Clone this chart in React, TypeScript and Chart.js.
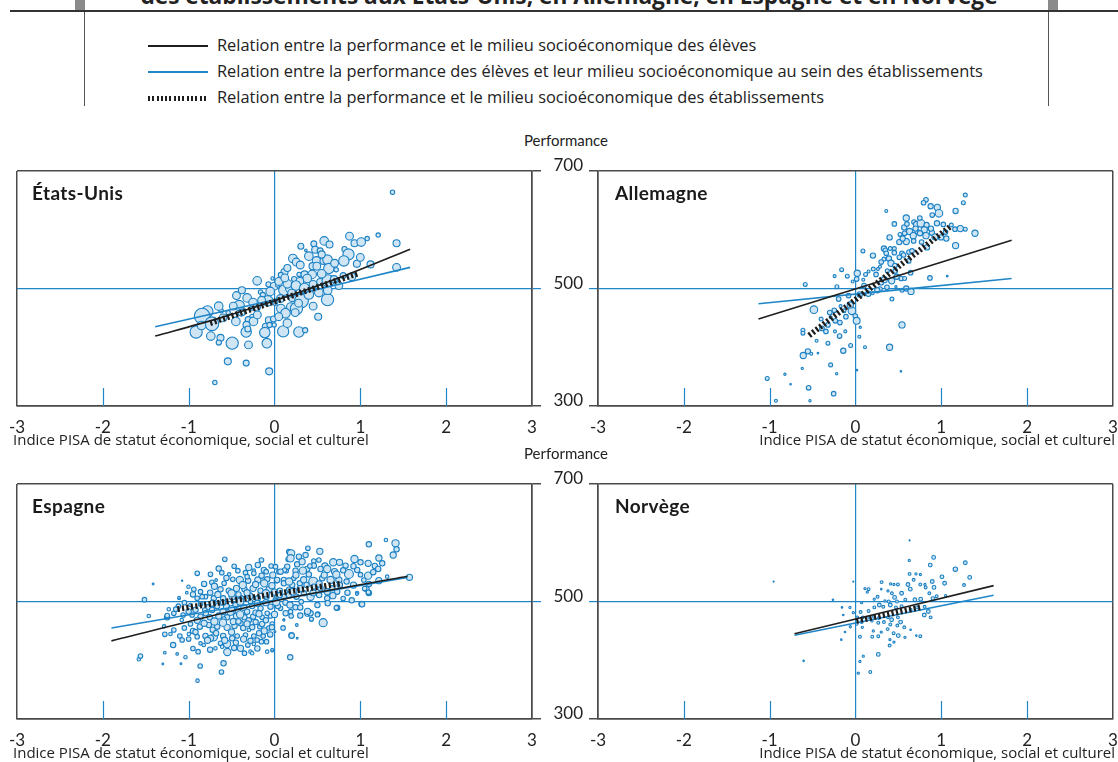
import React, { useEffect, useRef } from 'react';
import { Chart, registerables } from 'chart.js';

Chart.register(...registerables);

const FONT = 'Lato, "Noto Sans", sans-serif';
const TEXT_FONT = '"Open Sans", Lato, sans-serif';
const BLUE = '#1f86c8';
const FRAME = '#4a4a4a';
const BUBBLE_FILL = '#cfe5f3';
const BUBBLE_STROKE = '#1a80c4';
const INK = '#1e1e1e';

// ---------- tick values ----------
const xTicks = [-3, -2, -1, 0, 1, 2, 3];
const yTicks = [300, 500, 700];
const innerTickValues = [-2, -1, 1, 2];

// ---------- legend / titles ----------
const titleText = 'des établissements aux États-Unis, en Allemagne, en Espagne et en Norvège';
const legendLabels = [
  'Relation entre la performance et le milieu socioéconomique des élèves',
  'Relation entre la performance des élèves et leur milieu socioéconomique au sein des établissements',
  'Relation entre la performance et le milieu socioéconomique des établissements',
];
const xAxisTitle = 'Indice PISA de statut économique, social et culturel';
const yAxisTitle = 'Performance';

type Pt = [number, number, number];
type LP = [number, number];

// ---------- États-Unis ----------
const usSchools: Pt[] = [
  [1.375,664,1.7],[0.874,589,3],[0.932,577,2.7],[1.010,579,3.3],[1.080,585,1.7],[1.208,591,1.7],[1.422,577,2.7],[1.422,536,3],
  [0.579,581,3.3],[0.641,575,2.7],[0.458,576,2.3],[0.307,572,2.3],[0.474,566,2.7],[0.532,564,2.3],[0.365,565,1],[0.816,567,2],
  [0.862,558,4.3],[0.808,547,4],[0.960,542,2.7],[1.119,541,2.7],[0.214,551,3.3],[0.253,545,3],[0.490,547,3.3],[0.571,547,2.7],
  [0.618,549,3.7],[0.443,538,2.7],[0.493,538,3],[0.633,534,4],[0.719,532,1.7],[0.117,528,2.7],[0.074,523,2],[0.287,524,1.7],
  [0.350,524,2.7],[0.439,524,3.3],[0.381,517,3.3],[0.229,516,2],[0.295,512,3],[0.532,511,2.7],[0.625,513,4.7],[0.692,516,2.7],
  [0.800,522,2.3],[-0.202,513,3.3],[-0.070,507,2],[-0.004,504,3],[0.109,497,4],[0.179,500,3.3],[0.039,506,1.7],[-0.023,517,1.3],
  [-0.163,494,1.7],[-0.136,489,2],[-0.443,488,3],[-0.319,484,3.3],[-0.412,471,4],[-0.078,479,4],[0.070,483,3],[0.206,485,3.3],
  [0.315,479,5.3],[0.618,481,4.7],[0.517,493,3.3],[0.186,469,3],[0.074,466,3.3],[0.256,466,4.7],[0.128,458,3.7],[0.241,459,3],
  [0.008,475,1.7],[-0.210,468,3],[-0.260,467,1.7],[-0.622,462,1.7],[-0.540,459,1.7],[-0.781,461,4.3],[-0.843,453,6],[-0.730,440,5.3],
  [-0.385,459,2.7],[-0.256,451,2.3],[-0.307,447,2.3],[-0.245,444,3.3],[-0.326,438,2.7],[-0.330,426,4],[-0.311,431,2.3],[-0.101,435,2.7],
  [-0.066,446,2.7],[-0.012,448,2.3],[-0.004,438,1.7],[-0.058,438,2],[-0.113,425,4],[0.101,427,4.3],[0.284,426,4],[0.357,429,2],
  [0.509,452,2.7],[-0.913,426,4.7],[-0.742,419,3.3],[-0.629,416,2.7],[-0.649,408,2],[-0.493,407,4.7],[-0.303,404,3],[-0.089,407,3.7],
  [-0.544,376,2.7],[-0.330,373,2.3],[-0.062,359,2.7],[-0.695,340,1.7],
  [0.05,512,3],[0.15,508,3.3],[0.25,505,3.7],[0.35,500,4],[0.45,507,3],[0.55,525,3.3],[0.70,543,3],[0.40,555,3.3],
  [0.30,540,3],[0.15,535,2.7],[-0.05,495,3.3],[0.20,492,3],[0.40,490,3.7],[0.28,475,3],[-0.15,480,3],[-0.25,476,3.3],
  [-0.48,470,3],[-0.60,450,3],[-0.45,444,3.3],[-0.20,455,3],[0.05,452,3],[0.15,441,3.3],[0.45,470,3],[0.75,505,3],
  [0.90,520,3],[0.55,558,2.7],[1.00,553,3],[-0.65,470,3.3],[-0.85,437,3.3],[-0.38,497,2.7],[0.62,497,3.3],[0.12,518,3],
];
const usStudentLine: LP[] = [[-1.39,419],[-0.7,447],[0,479],[0.8,521],[1.58,567]];
const usWithinLine: LP[] = [[-1.39,435],[0,481],[1.58,536]];
const usBetweenLine: LP[] = [[-0.75,441],[0.98,526]];

// ---------- Allemagne ----------
const deSchools: Pt[] = [
  [1.280,659,1.7],[1.257,646,1.7],[0.822,651,2],[0.794,646,2],[0.876,640,2.3],[0.954,638,2.7],[0.973,628,3.3],[0.895,625,2],
  [1.167,632,2.3],[0.359,632,1.3],[0.592,620,2.7],[0.453,610,2],[0.569,604,2.3],[0.682,613,2],[0.713,609,2.7],[0.763,611,3.3],
  [0.829,608,2.3],[0.950,611,2.3],[0.631,597,2.7],[0.721,597,2],[0.802,600,2.7],[0.891,595,2.3],[1.024,609,2],[1.117,608,1.7],
  [1.160,601,2],[1.222,602,2.7],[1.280,601,1.7],[1.393,594,2.7],[0.519,592,1.7],[0.573,594,2],[0.674,590,2.7],[0.752,594,2.3],
  [0.822,590,2.7],[0.927,588,2.7],[0.997,587,2.3],[1.059,585,2.3],[0.398,587,2.3],[0.511,579,2.3],[0.592,580,2.7],[0.678,581,2],
  [0.771,579,2],[0.833,570,2.3],[1.167,573,2.7],[0.087,564,1.7],[0.204,556,2.3],[0.332,568,2.3],[0.348,565,2],[0.406,568,1.7],
  [0.453,568,1.7],[0.359,560,2],[0.453,561,2],[0.542,560,2],[0.624,562,2],[0.659,564,2],[0.332,550,1.7],[0.390,551,2.3],
  [0.511,553,2],[0.561,557,2],[0.620,547,2],[0.414,543,2.7],[0.460,539,2],[0.286,537,1.3],[0.208,533,1.7],[0.153,529,1.3],
  [0.021,526,2.7],[0.118,524,1.7],[0.262,533,1.3],[0.371,530,1.7],[0.464,530,2],[0.534,517,2],[0.573,517,1.7],[0.643,527,2],
  [0.868,518,2],[0.336,515,2.7],[0.422,513,2.7],[0.367,502,2],[0.472,503,1],[0.592,500,2.3],[0.647,495,2.7],[0.542,497,1.7],
  [0.286,499,2],[0.254,497,2.3],[0.150,491,2.3],[0.200,492,1.3],[0.425,482,1.7],[1.070,521,0.7],[-0.161,532,1.7],[-0.243,521,1.3],
  [-0.095,521,1.7],[-0.216,503,1.7],[-0.585,507,1.7],[0.014,516,2],[-0.033,512,1.3],[0.091,515,1.3],[-0.484,464,3.3],[-0.196,482,2],
  [-0.173,470,1.3],[-0.247,463,2],[-0.134,462,1.7],[-0.041,462,3.3],[-0.002,453,2],[0.014,445,3],[-0.289,451,1.3],[-0.235,445,2],
  [-0.111,452,2],[-0.181,442,2],[-0.321,438,2],[-0.390,432,2],[-0.344,427,2],[-0.239,427,1.3],[-0.185,419,2],[-0.118,427,1.3],
  [-0.612,429,1.7],[-0.612,424,1.7],[-0.453,411,1.3],[-0.321,407,1.7],[0.056,434,1],[0.045,418,1.3],[-0.056,403,1.7],[0.111,400,1.3],
  [-0.142,394,2.3],[-0.554,393,2.3],[-0.608,386,2.7],[-0.515,389,1.3],[-0.437,390,0.7],[0.542,438,2.7],[0.398,400,2.7],[-0.289,370,1.7],
  [-0.620,364,1],[-0.822,354,1],[-0.219,355,1],[0.017,361,0.7],[0.530,359,0.7],[-1.028,347,1.7],[-0.756,337,0.7],[-0.546,331,2],
  [-0.254,321,2],[-0.927,309,1.3],[-0.530,309,1],
  [0.70,602,2.3],[0.60,610,2],[0.88,602,2.3],[1.05,596,2],[0.30,545,2],[0.24,524,2],[0.10,505,2],[0.05,490,2.3],
  [-0.08,488,2],[0.30,510,2],[0.48,520,2.3],[-0.30,459,2],[-0.40,448,1.7],[-0.06,472,2.7],[0.55,585,2.3],[0.75,620,2],
];
const deStudentLine: LP[] = [[-1.13,448],[1.82,582]];
const deWithinLine: LP[] = [[-1.13,474],[1.82,517]];
const deBetweenLine: LP[] = [[-0.54,420],[1.11,606]];

// ---------- Espagne ----------
const esSchools: Pt[] = [
  [-0.579,571.8,1.7],[-0.194,562.1,2],[-0.152,570.6,1.7],[-0.039,560.4,1.7],[0.159,571.8,1.7],[0.167,584.8,1.7],
  [-0.746,546.2,1.7],[-0.614,549.1,1.7],[-0.528,546.2,1.3],[-0.427,552.5,1.7],[-0.338,549.1,1.7],[-0.241,552.5,1.3],[-0.124,553.6,2],[0.051,550.8,1.7],[0.136,552.5,1.7],
  [-0.680,536.6,1],[-0.730,532.6,1.7],[-0.587,530.9,1.7],[-0.486,537.7,1.7],[-0.404,536.6,2.7],[-0.307,535.5,2],[-0.194,536.6,2.3],[-0.085,537.7,2],[0.023,535.5,1.7],[0.109,536.6,2],
  [-0.940,520.7,1.7],[-0.862,516.7,1.7],[-1.002,525.2,1.3],[-1.022,515.0,1],[-1.111,505.4,1],[-0.629,520.7,2],[-0.532,518.4,2],[-0.443,522.4,2.3],[-0.350,520.7,2],[-0.249,522.4,2.3],[-0.163,518.4,2],[-0.062,520.7,2.3],[0.062,518.4,2],[0.167,520.7,1.7],
  [-0.901,505.4,1.7],[-0.804,508.2,1.7],[-0.707,505.4,2],[-0.598,505.4,2],[-0.493,508.2,2.3],[-0.389,505.4,2],[-0.287,509.4,2.3],[-0.194,505.4,2],[-0.093,508.2,2],[0.012,503.7,1.7],[0.109,508.2,2],
  [-0.979,494.0,1.3],[-0.862,495.7,1.7],[-0.777,490.1,2],[-0.668,492.3,2],[-0.559,491.2,2.3],[-0.455,494.0,2],[-0.357,490.1,2.3],[-0.260,492.3,2],[-0.163,488.4,2],[-0.047,491.2,2],[0.070,488.4,1.7],
  [-1.173,479.9,1.7],[-1.064,477.0,1.7],[-0.960,477.0,1.7],[-0.862,474.2,2],[-0.754,473.1,2],[-0.649,475.3,2.3],[-0.552,473.1,2],[-0.443,475.3,2.3],[-0.350,473.1,2],[-0.249,474.2,2],[-0.144,473.1,1.7],[-0.047,475.3,1.7],
  [-1.251,473.1,2],[-1.080,468.5,1.3],[-0.979,461.7,1.7],[-0.870,457.2,2],[-0.765,460.0,2],[-0.668,457.2,2],[-0.552,456.0,2.3],[-0.466,458.3,2],[-0.365,454.9,2],[-0.260,456.0,2],[-0.171,457.2,1.7],[-0.066,454.9,1.7],
  [-1.173,451.5,1.7],[-1.212,444.7,1.3],[-1.103,441.3,1.7],[-0.998,444.7,1.3],[-0.901,440.1,1.7],[-0.804,441.3,2],[-0.707,439.0,2.7],[-0.598,441.3,2],[-0.493,437.3,2],[-0.435,441.3,1.7],[-0.338,443.0,1.7],[-0.241,441.3,1.7],[-0.132,441.3,1.7],
  [-1.181,425.9,2],[-1.076,434.5,1.7],[-0.862,428.8,1.3],[-0.746,437.3,2.3],[-0.629,428.8,1.7],[-0.552,427.6,2.7],[-0.396,420.3,2.3],[-0.311,425.9,1.7],[-0.241,427.6,1.3],[-0.152,431.6,1.7],[-0.093,431.6,1.7],
  [-0.824,425.9,1.3],[-0.688,420.3,1.3],[-0.610,423.1,1.3],[-1.134,410.7,1],[-1.037,405.0,1.3],[-0.890,414.6,1.7],[-0.085,414.6,1.3],[-0.027,416.3,1],
  [-1.581,401.6,1.3],[-1.562,407.2,1.7],[-1.278,412.9,1],[-1.301,393.6,0.7],[-0.897,365.3,1.3],[-0.866,390.2,1.7],[-0.618,380.0,1.7],[-0.594,394.8,2],
  [-1.515,503.1,1.7],[-1.414,529.8,0.7],[-1.076,535.5,0.5],[-1.465,475.3,1.3],
  [-1.286,457.7,1.3],[-1.278,444.1,1.7],[-1.232,486.7,1.3],[0.109,469.0,0.7],[0.004,448.7,0.7],
  [-0.843,508.2,1.7],[-0.097,550.8,1.7],[-0.241,547.9,1.7],[-0.319,542.3,1.7],[-0.202,434.5,1.7],[-0.299,451.5,1.3],[-0.144,461.7,2],[-0.396,462.8,2],[-0.591,470.2,1.7],[-0.727,485.5,2],[-0.812,485.5,1.7],[-0.513,482.7,2.7],[-0.427,484.4,2],[-0.319,482.7,2],[-0.221,481.0,2],[-0.085,479.9,1.7],[-0.280,500.0,1.7],[-0.396,496.9,1.7],
  [1.298,604.7,1.3],[1.410,599.0,2.7],[1.422,588.8,2],[1.383,579.1,2.3],[1.099,597.3,2],[0.528,585.4,2.3],[0.389,590.5,1.7],[0.362,579.1,2],[0.284,576.3,2],[0.194,582.0,2.7],[0.187,573.5,2.7],[0.264,563.3,2],[0.322,567.8,2.3],[0.458,568.9,1.7],[0.517,570.6,1.7],[0.932,572.3,2.7],[1.002,566.7,2],[1.091,565.0,2.3],[1.169,560.4,2],[1.216,574.0,2.3],[1.255,565.0,2],[1.208,555.3,2],[1.216,535.5,2.3],[1.313,542.3,1.3],
  [0.684,566.7,2.7],[0.758,566.7,2.3],[0.828,561.0,2],[0.867,546.8,3.3],[0.963,553.6,2],[1.002,545.7,1.7],[1.091,544.0,2.7],[1.041,536.6,1.7],[0.587,560.4,2.3],[0.614,555.3,2.7],[0.536,555.3,2],[0.458,561.0,2],[0.381,555.3,2],[0.412,560.4,1.7],[0.330,552.5,2.7],[0.245,552.5,2],[0.148,559.3,2],[0.117,553.6,1.7],[0.070,550.8,2],[0.012,559.3,1.7],
  [0.451,533.8,3.3],[0.556,539.4,2],[0.653,536.6,2.7],[0.750,536.6,2.3],[0.761,528.1,2],[0.672,522.4,2],[0.614,516.7,2.3],[0.730,516.7,2],[0.536,522.4,2],[0.458,525.2,2],[0.373,528.1,2],[0.295,530.9,2],[0.206,528.1,2],[0.109,530.9,2],[0.031,536.6,2],[0.225,539.4,1.7],
  [0.342,513.9,2],[0.420,508.2,2.7],[0.256,508.2,2],[0.167,511.0,2],[0.062,511.0,2],[0.128,498.0,2],[0.039,492.3,2],[0.245,490.1,2],[0.311,499.7,1.7],[0.614,505.4,2],[0.389,481.0,2.7],[0.420,479.9,2],[0.187,482.7,1.7],[0.505,478.7,1.7],[0.567,464.0,3],[0.431,469.6,1.3],[0.730,489.5,2],[1.014,495.7,2],[0.963,514.4,1.3],[1.072,521.3,2],[1.099,514.4,2],
  [0.194,475.3,1.7],[0.198,442.4,2],[0.264,437.3,0.7],[0.109,467.9,0.7],[0.183,405.0,2],[-0.027,461.7,1.7],[-0.027,417.9,1],
  [1.572,541.2,2.3],[0.2,441.8,2],[0.26,460,1],[0.43,470,1.5],[0.385,483.3,2.3],[0.5,477.5,1.7],[0.72,489.4,1.7],[1.02,495.2,2],[1.094,515.6,1.7],[1.05,522,1.7],[0.96,512.8,1],
  [-1.09,394,0.7],[-1.25,476,1.7],[-1.112,506.5,1],[-0.28,414.6,1.3],[-0.26,411.8,1.3],
  [-0.9,548,1.7],[-0.65,556,2],[-0.47,560,1.7],[-0.3,558,2.3],[0.25,545,2.3],[0.4,546,2],[0.7,551,2.3],[0.92,560,2],[1.15,550,2],[-0.02,545,2.3],[-0.15,544,2],
  [-0.82,530,2],[-0.7,526,2.3],[-0.56,540,2],[-0.37,528,2.7],[-0.22,529,2.3],[-0.12,531,2.7],[-0.03,527,2.3],[0.17,534,2.7],[0.34,537,2.3],[0.52,530,2.3],[0.84,534,2],[0.92,528,2.3],[1.1,530,2],[0.58,545,2.3],[0.72,546,2.7],[0.8,553,2],
  [-1.05,498,1.7],[-0.95,512,2],[-0.75,515,2],[-0.66,512,2.3],[-0.5,514,2.7],[-0.42,512,2],[-0.32,515,2.3],[-0.1,514,2.7],[0.0,516,2.3],[0.22,517,2.7],[0.3,522,2.3],[0.45,515,2.3],[0.52,511,2],[0.68,510,2.3],[0.85,515,2],[0.8,505,1.7],
  [-1.12,492,1.7],[-0.92,486,2],[-0.72,497,2.3],[-0.6,498,2],[-0.5,488,2.3],[-0.4,500,2.7],[-0.2,497,2.3],[-0.1,498,2.3],[0.02,499,2.7],[0.18,494,2.3],[0.3,490,2],[0.5,494,2],[0.62,497,2],[0.9,502,2],
  [-1.15,487,1.7],[-1.0,483,2],[-0.9,468,2.3],[-0.8,480,2],[-0.7,466,2.7],[-0.6,483,2.3],[-0.48,466,2.3],[-0.4,478,2.7],[-0.3,468,2],[-0.18,479,2.3],[-0.1,468,2],[0.0,478,2.3],[0.13,480,2],[0.3,476,2],
  [-1.05,455,1.7],[-0.95,450,2],[-0.82,463,2.3],[-0.72,452,2],[-0.6,464,2.7],[-0.5,448,2.3],[-0.42,466,2],[-0.32,462,2.3],[-0.22,465,2],[-0.12,450,2.3],[-0.03,456,2],[0.1,455,1.7],
  [-1.0,436,1.7],[-0.92,448,2],[-0.78,434,2.3],[-0.68,446,2],[-0.58,434,2.3],[-0.45,430,2],[-0.36,436,2.3],[-0.28,433,2],[-0.18,446,2],[-0.05,444,2],
  [-0.95,420,1.7],[-0.75,418,2],[-0.55,414,2.7],[-0.47,421,2],[-0.35,412,1.7],[-0.2,420,2],
];
const esStudentLine: LP[] = [[-1.9,433],[0,501],[1.55,543]];
const esWithinLine: LP[] = [[-1.9,455],[1.55,541]];
const esBetweenLine: LP[] = [[-1.13,487],[0.79,531]];

// ---------- Norvège ----------
const noSchools: Pt[] = [
  [0.631,604,0.5],[0.911,575,1.7],[0.627,570,1],[0.872,562,1.7],[1.280,566,1.7],[1.164,555,2],[0.631,547,1.3],[0.705,547,1],
  [0.756,546,1],[1.008,542,1.7],[1.331,541,1.7],[0.305,533,1.3],[0.678,537,1.3],[0.895,534,1.7],[0.810,529,1],[1.039,531,1.7],
  [0.410,530,1],[0.449,529,1],[0.495,529,1.3],[0.612,529,1.7],[0.756,529,1.3],[0.111,522,1],[0.153,521,1.3],[0.138,516,1],
  [0.301,521,0.7],[0.379,518,1],[0.425,514,1.3],[0.538,514,1.7],[0.639,521,1.7],[0.818,524,1.3],[0.915,524,1.7],[0.861,514,1.3],
  [0.258,508,1.3],[0.219,504,1],[0.344,501,1],[0.387,500,1.3],[0.456,507,1.7],[0.484,500,1.3],[0.581,503,1.3],[0.693,503,1.7],
  [0.760,504,1.7],[0.903,505,1.7],[0.946,509,1.3],[1.051,510,1],[0.072,498,1],[-0.262,503,0.7],[-0.157,490,0.7],[-0.025,481,1],
  [0.060,482,1.3],[0.153,484,1.3],[0.220,490,1.3],[0.278,494,1.7],[0.324,491,1.3],[0.406,494,1.7],[0.472,490,1.3],[0.538,492,1.3],
  [0.643,486,1.3],[0.717,490,1.3],[0.806,491,1.3],[0.849,483,1.7],[0.802,477,1.7],[0.876,473,1.3],[0.021,473,1.3],[0.087,473,1.3],
  [0.157,473,1],[0.216,474,1.3],[0.274,472,1.3],[0.379,473,1.3],[0.422,469,1.7],[0.495,473,1.3],[0.526,465,1.7],[0.072,465,1.3],
  [0.192,467,1],[0.266,464,1.3],[0.332,465,1.3],[0.406,461,1.3],[0.488,459,1.3],[0.569,456,1.3],[-0.060,457,1],[0.014,462,1.3],
  [0.080,456,1],[0.208,450,1],[0.301,448,1],[0.375,453,1.3],[0.445,446,1.3],[0.499,442,1.7],[0.643,452,0.7],[0.709,442,0.7],
  [0.756,441,1.3],[-0.122,448,0.7],[0.052,440,1.3],[0.266,441,1.3],[0.196,440,1.3],[0.402,435,1],[0.449,431,1],[0.398,425,1.3],
  [0.577,439,1],[-0.165,435,0.7],[0.266,410,1.7],[0.091,407,1],[0.052,398,1],[-0.604,399,0.7],[0.033,378,1],[0.173,380,1.3],
  [-0.954,534,0.5],[-0.025,534,0.5],[-0.142,477,0.7],[-0.064,490,1],[1.265,528,1.3],
];
const noStudentLine: LP[] = [[-0.71,445],[1.61,527]];
const noWithinLine: LP[] = [[-0.71,442.5],[1.61,510.5]];
const noBetweenLine: LP[] = [[0.01,467],[0.76,490]];

// ---------- chart building ----------
type PanelCfg = {
  name: string;
  left: number; top: number; w: number; h: number;
  yPos: 'left' | 'right';
  yWidth: number;
  padLeft: number; padRight: number;
  showYLabels: boolean;
  sizeScale: number;
  schools: Pt[];
  student: LP[]; within: LP[]; between: LP[];
};

const innerTicksPlugin = {
  id: 'innerTicks',
  beforeDatasetsDraw(chart: any) {
    const { ctx, chartArea, scales } = chart;
    ctx.save();
    ctx.strokeStyle = BLUE;
    ctx.lineWidth = 1.2;
    innerTickValues.forEach((v) => {
      const x = Math.round(scales.x.getPixelForValue(v)) + 0.5;
      ctx.beginPath();
      ctx.moveTo(x, chartArea.bottom);
      ctx.lineTo(x, chartArea.bottom - 18);
      ctx.stroke();
    });
    ctx.restore();
  },
};

const toXY = (arr: LP[]) => arr.map(([x, y]) => ({ x, y }));

function Panel({ cfg }: { cfg: PanelCfg }) {
  const ref = useRef<HTMLCanvasElement | null>(null);
  useEffect(() => {
    const yColor = (c: any) => (c.tick && c.tick.value === 500 ? BLUE : FRAME);
    const yWidth = (c: any) => (c.tick && c.tick.value === 500 ? 1.2 : 1.5);
    const chart = new Chart(ref.current as HTMLCanvasElement, {
      type: 'bubble',
      data: {
        datasets: [
          {
            type: 'line', label: 'between', data: toXY(cfg.between) as any,
            borderColor: INK, borderWidth: 5.8, borderDash: [2.2, 2.3], borderCapStyle: 'butt',
            pointRadius: 0, fill: false, tension: 0, order: 0,
          } as any,
          {
            type: 'line', label: 'student', data: toXY(cfg.student) as any,
            borderColor: INK, borderWidth: 1.6, pointRadius: 0, fill: false, tension: 0.3, order: 1,
          } as any,
          {
            type: 'line', label: 'within', data: toXY(cfg.within) as any,
            borderColor: BLUE, borderWidth: 1.6, pointRadius: 0, fill: false, tension: 0.3, order: 2,
          } as any,
          {
            type: 'bubble', label: 'schools',
            data: cfg.schools.map(([x, y, r]) => ({ x, y, r: r * cfg.sizeScale })),
            backgroundColor: BUBBLE_FILL, borderColor: BUBBLE_STROKE, borderWidth: 1.1, order: 3,
          } as any,
        ],
      },
      options: {
        responsive: false,
        devicePixelRatio: 1,
        animation: false,
        events: [],
        layout: { padding: { left: cfg.padLeft, right: cfg.padRight, top: 21, bottom: 0 } },
        plugins: { legend: { display: false }, tooltip: { enabled: false }, title: { display: false } },
        scales: {
          x: {
            type: 'linear', min: -3, max: 3,
            afterBuildTicks: (s: any) => { s.ticks = xTicks.map((v) => ({ value: v })); },
            afterFit: (s: any) => { s.height = 44; s.paddingLeft = 0; s.paddingRight = 0; },
            ticks: {
              font: { family: FONT, size: 17 }, color: '#222', padding: 11,
              maxRotation: 0, autoSkip: false, callback: (v: any) => String(v),
            },
            grid: {
              drawTicks: false,
              color: (c: any) => {
                const v = c.tick ? c.tick.value : null;
                if (v === 0) return BLUE;
                if (v === -3 || v === 3) return FRAME;
                return 'rgba(0,0,0,0)';
              },
              lineWidth: (c: any) => (c.tick && c.tick.value === 0 ? 1.2 : 1.5),
            },
            border: { display: true, color: FRAME, width: 1.5 },
          },
          y: {
            type: 'linear', min: 300, max: 700, position: cfg.yPos,
            afterBuildTicks: (s: any) => { s.ticks = yTicks.map((v) => ({ value: v })); },
            afterFit: (s: any) => { s.width = cfg.yWidth; s.paddingTop = 0; s.paddingBottom = 0; },
            ticks: {
              display: cfg.showYLabels,
              font: { family: FONT, size: 17, lineHeight: 0.6 }, color: '#222', padding: 6,
              callback: (v: any) => [String(v), ''],
            },
            grid: {
              drawTicks: true, tickLength: 9,
              color: yColor, tickColor: yColor, lineWidth: yWidth, tickWidth: yWidth,
            },
            border: { display: true, color: FRAME, width: 1.5 },
          },
        },
      } as any,
      plugins: [innerTicksPlugin],
    });
    return () => chart.destroy();
  }, [cfg]);
  return (
    <canvas
      ref={ref}
      width={cfg.w}
      height={cfg.h}
      style={{ position: 'absolute', left: cfg.left, top: cfg.top, width: cfg.w, height: cfg.h }}
    />
  );
}

const panels: PanelCfg[] = [
  { name: 'États-Unis', left: 0, top: 150, w: 550, h: 300, yPos: 'right', yWidth: 18, padLeft: 17, padRight: 0, showYLabels: false, sizeScale: 1.3,
    schools: usSchools, student: usStudentLine, within: usWithinLine, between: usBetweenLine },
  { name: 'Allemagne', left: 540, top: 150, w: 578, h: 300, yPos: 'left', yWidth: 58, padLeft: 0, padRight: 5, showYLabels: true, sizeScale: 1.15,
    schools: deSchools, student: deStudentLine, within: deWithinLine, between: deBetweenLine },
  { name: 'Espagne', left: 0, top: 463, w: 550, h: 300, yPos: 'right', yWidth: 18, padLeft: 17, padRight: 0, showYLabels: false, sizeScale: 1.35,
    schools: esSchools, student: esStudentLine, within: esWithinLine, between: esBetweenLine },
  { name: 'Norvège', left: 540, top: 463, w: 578, h: 300, yPos: 'left', yWidth: 58, padLeft: 0, padRight: 5, showYLabels: true, sizeScale: 1.1,
    schools: noSchools, student: noStudentLine, within: noWithinLine, between: noBetweenLine },
];

const abs = (s: React.CSSProperties): React.CSSProperties => ({ position: 'absolute', whiteSpace: 'nowrap', ...s });

export default function App() {
  const legendY = [46, 72, 98];
  const panelTitle = (left: number, top: number, text: string) => (
    <div style={abs({ left, top, font: `bold 19px ${FONT}`, lineHeight: '19px', letterSpacing: '0.4px', color: '#1a1a1a' })}>{text}</div>
  );
  return (
    <div style={abs({ left: 0, top: 0, width: 1118, height: 762, overflow: 'hidden', background: '#fff', fontFamily: FONT, color: '#222' })}>
      {panels.map((p) => <Panel key={p.name} cfg={p} />)}

      {/* header */}
      <div style={abs({ left: 10, top: -15, width: 1118, textAlign: 'center', font: `bold 22.7px ${TEXT_FONT}`, lineHeight: '22px', color: '#222' })}>{titleText}</div>
      <div style={abs({ left: 75, top: 0, width: 10, height: 10, background: '#8a8a8a' })} />
      <div style={abs({ left: 1048, top: 0, width: 10, height: 10, background: '#8a8a8a' })} />
      <div style={abs({ left: 10, top: 10, width: 1108, height: 2, background: '#333' })} />
      <div style={abs({ left: 84, top: 12, width: 1, height: 94, background: '#555' })} />
      <div style={abs({ left: 1048, top: 12, width: 1, height: 94, background: '#555' })} />

      {/* legend */}
      <div style={abs({ left: 148, top: legendY[0] - 0.75, width: 60, height: 1.5, background: INK })} />
      <div style={abs({ left: 148, top: legendY[1] - 0.75, width: 60, height: 1.5, background: BLUE })} />
      <div style={abs({ left: 148, top: legendY[2] - 2.5, width: 60, height: 5, background: `repeating-linear-gradient(90deg, ${INK} 0 2px, transparent 2px 4.3px)` })} />
      {legendLabels.map((t, i) => (
        <div key={t} style={abs({ left: 217, top: legendY[i] - 11, height: 20, lineHeight: '20px', fontSize: 16.4, fontFamily: TEXT_FONT })}>{t}</div>
      ))}

      {/* axis titles */}
      <div style={abs({ left: 466, top: 131, width: 200, textAlign: 'center', fontSize: 15, lineHeight: '18px' })}>{yAxisTitle}</div>
      <div style={abs({ left: 466, top: 444, width: 200, textAlign: 'center', fontSize: 15, lineHeight: '18px' })}>{yAxisTitle}</div>
      <div style={abs({ left: 13, top: 432, fontSize: 15, lineHeight: '15px', fontFamily: TEXT_FONT })}>{xAxisTitle}</div>
      <div style={abs({ right: 3, top: 432, fontSize: 15, lineHeight: '15px', fontFamily: TEXT_FONT })}>{xAxisTitle}</div>
      <div style={abs({ left: 13, top: 745, fontSize: 15, lineHeight: '15px', fontFamily: TEXT_FONT })}>{xAxisTitle}</div>
      <div style={abs({ right: 3, top: 745, fontSize: 15, lineHeight: '15px', fontFamily: TEXT_FONT })}>{xAxisTitle}</div>

      {/* panel titles */}
      {panelTitle(32, 183, panels[0].name)}
      {panelTitle(615, 183, panels[1].name)}
      {panelTitle(32, 496, panels[2].name)}
      {panelTitle(615, 496, panels[3].name)}
    </div>
  );
}
